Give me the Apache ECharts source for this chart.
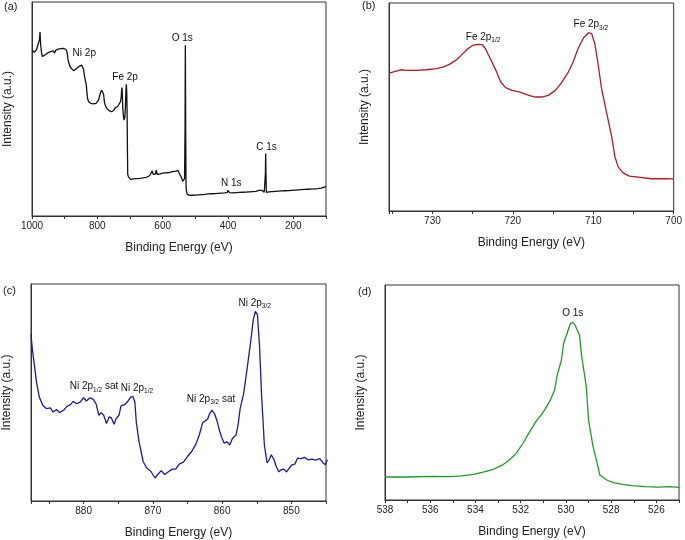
<!DOCTYPE html>
<html>
<head>
<meta charset="utf-8">
<script src="https://cdn.jsdelivr.net/npm/echarts@6/dist/echarts.min.js"></script>
<style>html,body{margin:0;padding:0;background:#fff}#c{width:685px;height:540px}</style>
</head>
<body>
<div id="c"></div>
<script>
// ---------- Panel (a): survey spectrum ----------
const surveyEnergy = [1000,996,993,990,986,983,980,977,975.5,973.5,971,968,965,962,958,955,951,947,943,939,935,931,927,924,920,916,912,908,904,900,896,893,890,888,884,880,876,872,868,864,860,856,852,848,845,842,840,837,834,832,830,827,823,820,816,812,808,804,800,797,794,790,787,784,781,778,775,772,769,766,763,760,757,754,750,747,744,741,737,734,731,729,727,725.5,724.5,723.5,722,720,718.5,716,714,712.5,711.2,710,709,708,707,705,702,698,694,690,685,680,675,670,665,660,655,650,645,640,636,634,632,630.6,629,627,625,622,620,618.4,616.5,614,610,605,600,595,590,585,580,575,570,565,560,556,553,550,546,542,539,537,534.5,533,531.5,530.6,529.5,528.5,527.5,525,522,518,514,510,505,500,495,490,485,480,475,470,465,460,455,450,445,440,435,430,425,420,415,410,405,402,400.5,399,397.5,395,390,385,380,375,370,365,360,355,350,345,340,335,330,325,320,315,310,305,300,296,292,289,287,285.5,284.7,283.8,282.5,280,275,270,265,260,255,250,245,240,235,230,225,220,215,210,205,200,195,190,185,180,175,170,165,160,155,150,145,140,135,130,125,120,115,110,105,100];
const surveyIntensity = [77.4,78.2,76.5,76.9,77.8,77.2,78.5,82.5,86.0,80.0,76.5,74.5,73.6,74.8,75.5,75.0,76.3,75.8,76.8,76.3,77.2,76.2,77.5,77.0,78.0,77.3,78.2,77.6,78.3,77.5,77.8,76.8,73.5,72.0,70.0,69.0,68.3,67.9,68.2,68.9,69.4,69.9,70.3,70.5,69.8,68.5,66.0,63.5,61.5,58.0,55.0,53.5,52.9,52.6,52.7,52.4,53.0,52.6,53.2,54.0,55.5,57.8,58.8,58.3,57.0,53.0,51.5,50.5,49.8,49.5,48.9,49.3,48.7,49.6,49.3,50.3,49.8,50.6,51.3,51.0,52.2,53.5,55.5,59.0,60.0,57.0,50.0,46.5,44.8,46.0,51.0,58.0,61.5,58.0,50.0,33.0,19.5,18.4,17.5,17.1,17.6,17.3,17.8,17.5,17.9,17.6,18.0,17.8,18.3,18.1,18.6,18.8,19.0,19.5,21.0,21.5,19.5,19.0,19.3,19.6,21.5,22.2,19.5,19.3,19.6,19.9,20.0,19.8,20.2,20.0,20.3,20.4,20.7,20.5,21.0,21.7,21.3,20.2,19.3,17.8,16.2,15.6,15.9,17.5,40.0,79.8,40.0,14.0,12.0,10.2,9.5,9.6,9.3,9.7,9.4,9.8,9.5,9.9,9.6,10.0,9.8,10.1,9.9,10.3,10.1,10.4,10.2,10.5,10.3,10.6,10.4,10.7,10.5,10.8,10.7,11.0,12.0,12.3,11.5,10.9,11.0,10.8,11.1,10.9,11.2,11.0,11.3,11.1,11.4,11.2,11.4,11.3,11.5,11.4,11.6,11.5,11.8,12.0,11.9,12.0,11.6,11.1,11.3,20.0,29.2,20.0,11.0,11.2,11.3,11.2,11.4,11.3,11.5,11.4,11.6,11.5,11.7,11.6,11.8,11.7,11.9,11.8,12.0,11.9,12.1,12.0,12.2,12.1,12.3,12.2,12.4,12.3,12.5,12.4,12.6,12.5,12.7,12.7,12.8,12.8,13.0,13.1,13.5,13.7];
const surveyLabelText = ['Ni 2p','Fe 2p','O 1s','N 1s','C 1s'];
const surveyLabelEnergy = [840,715,540,390,282];
const surveyLabelIntensity = [76.2,65.0,83.2,15.4,32.2];

// ---------- Panel (b): Fe 2p ----------
const feEnergy = [735.4,734.5,733.9,733.3,732.0,730.8,729.5,728.7,727.9,727.1,726.3,725.6,725.0,724.4,723.8,723.4,722.8,722.1,721.5,720.9,720.1,719.1,718.0,717.2,716.4,715.6,714.7,713.9,713.1,712.5,711.9,711.2,710.6,710.2,709.8,709.4,709.0,708.4,707.7,707.3,706.9,706.3,705.5,704.4,702.8,701.2,700.0];
const feIntensity = [66.3,67.3,67.9,67.6,67.6,67.9,68.4,69.2,70.5,72.4,75.3,78.0,79.6,80.1,80.0,78.0,73.2,67.6,62.0,59.3,58.0,57.1,55.6,54.8,54.8,55.6,58.0,62.0,66.8,71.6,78.0,83.3,85.7,85.3,80.4,70.8,59.6,48.4,35.6,26.0,21.2,18.3,16.8,16.3,15.5,15.5,15.4];
const feLabelText = ['Fe 2p{s|1/2}','Fe 2p{s|3/2}'];
const feLabelEnergy = [723.7,710.3];
const feLabelIntensity = [83.7,89.7];

// ---------- Panel (c): Ni 2p ----------
const niEnergy = [887.6,887.4,887.1,886.8,886.4,885.9,885.4,884.8,884.4,883.9,883.5,882.9,882.4,881.9,881.5,881.0,880.5,880.0,879.6,879.1,878.6,878.2,877.8,877.5,877.1,876.7,876.3,876.0,875.6,875.3,874.9,874.6,874.1,873.7,873.2,872.9,872.6,872.4,872.0,871.4,870.9,870.3,869.7,869.3,868.8,868.3,867.8,867.2,866.7,866.2,865.6,865.0,864.4,863.8,863.3,862.8,862.5,862.1,861.8,861.5,861.1,860.7,860.4,860.1,859.7,859.3,858.9,858.5,858.0,857.7,857.4,856.9,856.4,855.9,855.5,855.2,854.9,854.6,854.3,853.9,853.5,853.2,852.9,852.5,852.2,851.8,851.5,851.1,850.7,850.3,849.9,849.5,849.1,848.6,848.1,847.6,847.0,846.5,845.9,845.4,845.1,844.8];
const niIntensity = [76.7,69.9,62.3,54.7,47.9,44.1,42.6,42.9,41.0,42.2,40.7,41.8,43.6,44.4,45.9,44.8,45.6,47.6,46.1,47.6,46.8,44.8,39.5,40.7,39.5,35.7,38.8,38.3,35.4,38.0,39.5,43.8,44.4,45.6,47.9,48.2,45.6,36.5,27.4,18.2,15.2,13.7,10.6,12.2,14.0,12.2,13.4,14.7,14.7,17.0,17.9,20.5,22.8,26.1,30.4,36.2,36.8,37.7,40.3,41.8,40.3,36.5,32.7,29.6,26.6,27.4,25.8,28.9,30.4,35.0,42.6,49.4,60.8,72.9,83.6,87.4,85.9,71.4,48.6,25.8,17.5,19.0,21.3,19.0,16.0,13.4,14.4,14.7,13.4,15.2,16.7,17.0,19.8,19.5,20.1,19.0,19.3,18.8,19.5,17.5,16.7,19.0];
const niLabelText = ['Ni 2p{s|1/2} sat','Ni 2p{s|1/2}','Ni 2p{s|3/2} sat','Ni 2p{s|3/2}'];
const niLabelEnergy = [878.5,872.3,861.6,855.3];
const niLabelIntensity = [52.9,52.1,47.1,91.2];

// ---------- Panel (d): O 1s ----------
const oEnergy = [538.0,537.06,535.9,535.1,534.6,534.1,533.7,533.2,532.8,532.5,532.2,531.9,531.6,531.3,531.1,530.9,530.7,530.5,530.4,530.2,530.1,529.9,529.8,529.7,529.6,529.4,529.3,529.1,529.0,528.8,528.6,528.5,528.2,527.9,527.5,527.1,526.5,525.9,525.4,525.0];
const oIntensity = [10.7,10.7,11.0,10.9,11.2,11.9,12.9,14.3,16.3,18.6,21.7,26.4,31.8,36.9,39.5,42.6,46.2,51.2,57.4,65.1,72.9,79.1,82.2,82.5,81.4,76.7,66.7,52.7,37.2,24.8,16.3,11.6,9.3,8.1,7.3,6.7,6.2,6.0,6.2,5.9];
const oLabelText = ['O 1s'];
const oLabelEnergy = [529.7];
const oLabelIntensity = [86.8];

const panelLetters = ['(a)','(b)','(c)','(d)'];
const xTitle = 'Binding Energy (eV)';
const yTitle = 'Intensity (a.u.)';

// ---------- build ----------
const FONT = '"Liberation Sans", Arial, sans-serif';
const AXIS = '#333';
const TXT = '#222';

const grids = [
  {left: 32, top: 2, width: 294, height: 214},
  {left: 389, top: 3, width: 287, height: 208},
  {left: 31, top: 284, width: 295, height: 219},
  {left: 385, top: 285, width: 294, height: 215}
].map(g => Object.assign(g, {show: true, borderColor: AXIS, borderWidth: 1, containLabel: false}));

const xSpecs = [
  {min: 100, max: 1000, interval: 100, labelStep: 200},
  {min: 700, max: 735.4, interval: 5, labelStep: 10},
  {min: 845, max: 887.6, interval: 5, labelStep: 10},
  {min: 525, max: 538, interval: 1, labelStep: 2}
];

const xAxes = xSpecs.map((s, i) => ({
  type: 'value', gridIndex: i, inverse: true,
  min: s.min, max: s.max, interval: s.interval,
  axisLine: {show: true, onZero: false, lineStyle: {color: AXIS, width: 1}},
  axisTick: {show: true, inside: false, length: 3, lineStyle: {color: AXIS}},
  axisLabel: {
    fontSize: 10, color: TXT, fontFamily: FONT, margin: 5,
    showMinLabel: true, showMaxLabel: true,
    formatter: v => {
      const r = Math.round(v);
      return (Math.abs(v - r) < 1e-6 && r % s.labelStep === 0) ? String(r) : '';
    }
  },
  splitLine: {show: false},
  name: xTitle, nameLocation: 'middle', nameGap: 26,
  nameTextStyle: {fontSize: 12, color: TXT, fontFamily: FONT}
}));

const yAxes = [0,1,2,3].map(i => ({
  type: 'value', gridIndex: i, min: 0, max: 100,
  axisLine: {show: true, lineStyle: {color: AXIS}},
  axisTick: {show: false}, axisLabel: {show: false}, splitLine: {show: false},
  name: yTitle, nameLocation: 'middle', nameGap: 18, nameRotate: 90,
  nameTextStyle: {fontSize: 12, color: TXT, fontFamily: FONT}
}));

const zip = (a, b) => a.map((v, i) => [v, b[i]]);
const lineSeries = (i, ex, iy, color) => ({
  type: 'line', xAxisIndex: i, yAxisIndex: i, data: zip(ex, iy),
  showSymbol: false, symbol: 'none', smooth: false, silent: true,
  lineStyle: {color: color, width: 1.3}, animation: false
});
const labelSeries = (i, texts, ex, iy) => ({
  type: 'scatter', xAxisIndex: i, yAxisIndex: i, symbolSize: 1,
  itemStyle: {color: '#ffffff', opacity: 1}, silent: true, animation: false, z: 10,
  data: texts.map((t, k) => ({name: t, value: [ex[k], iy[k]]})),
  label: {
    show: true, position: 'inside', formatter: '{b}',
    fontSize: 10, color: '#111', fontFamily: FONT, lineHeight: 14,
    textBorderWidth: 0, textBorderColor: 'transparent', opacity: 1,
    rich: {s: {fontSize: 6.5, fontFamily: FONT, color: '#111', verticalAlign: 'bottom', lineHeight: 6,
               textBorderWidth: 0}}
  }
});

const titles = [
  {left: 4, top: 1}, {left: 362, top: 0}, {left: 3, top: 285}, {left: 358, top: 286}
].map((p, i) => Object.assign(p, {text: panelLetters[i], padding: 0,
  textStyle: {fontSize: 11, fontWeight: 'normal', color: TXT, fontFamily: FONT}}));

const chart = echarts.init(document.getElementById('c'), null, {renderer: 'canvas'});
chart.setOption({
  animation: false,
  backgroundColor: '#fff',
  title: titles,
  grid: grids,
  xAxis: xAxes,
  yAxis: yAxes,
  series: [
    lineSeries(0, surveyEnergy, surveyIntensity, '#111111'),
    lineSeries(1, feEnergy, feIntensity, '#a3202a'),
    lineSeries(2, niEnergy, niIntensity, '#1c1c96'),
    lineSeries(3, oEnergy, oIntensity, '#1f9a25'),
    labelSeries(0, surveyLabelText, surveyLabelEnergy, surveyLabelIntensity),
    labelSeries(1, feLabelText, feLabelEnergy, feLabelIntensity),
    labelSeries(2, niLabelText, niLabelEnergy, niLabelIntensity),
    labelSeries(3, oLabelText, oLabelEnergy, oLabelIntensity)
  ]
});
</script>
</body>
</html>
